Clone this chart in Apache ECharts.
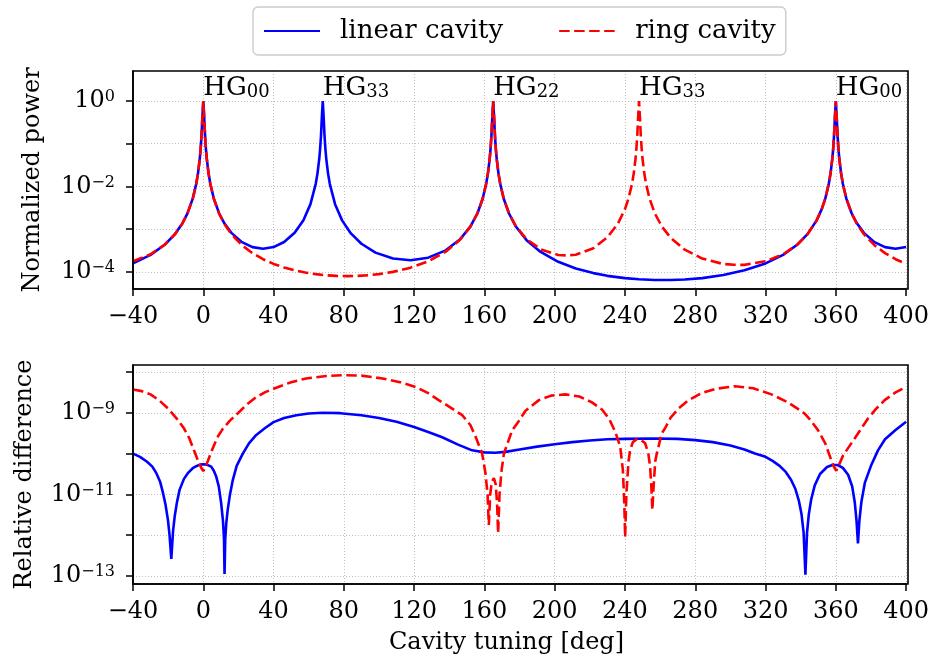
<!DOCTYPE html>
<html>
<head>
<meta charset="utf-8">
<title>Cavity scan</title>
<script src="https://cdn.jsdelivr.net/npm/echarts@6/dist/echarts.min.js"></script>
<style>
  html, body { margin: 0; padding: 0; background: #ffffff; }
  #chart { width: 932px; height: 661px; }
</style>
</head>
<body>
<div id="chart"></div>
<script>
// Normalized circulating power vs. cavity tuning [deg, power]
const linearPower = [
  [-40,1.57e-4],[-30,2.49e-4],[-22,4.29e-4],[-16,7.73e-4],[-12,1.335e-3],[-9,2.33e-3],[-6,5.16e-3],
  [-4,1.149e-2],[-3,2.02e-2],[-2,4.43e-2],[-1.5,0.076],[-1,0.156],[-0.5,0.425],[0,1],[0.5,0.425],
  [1,0.156],[1.5,0.076],[2,0.0443],[3,0.0202],[4,0.0115],[6,5.18e-3],[9,2.35e-3],[12,1.366e-3],
  [16,8.16e-4],[22,4.95e-4],[28,3.78e-4],[34,3.47e-4],[40,3.79e-4],[46,4.98e-4],[52,8.2e-4],
  [57,1.616e-3],[61,3.84e-3],[64,1.15e-2],[65,2.02e-2],[66,4.43e-2],[66.5,0.076],[67,0.156],
  [67.5,0.425],[68,1],[68.5,0.425],[69,0.156],[69.5,0.076],[70,0.0443],[71,0.0202],[72,0.0115],
  [75,3.83e-3],[79,1.6e-3],[84,7.92e-4],[90,4.53e-4],[98,2.81e-4],[108,2.04e-4],[118,1.866e-4],
  [128,2.14e-4],[138,3.18e-4],[146,5.68e-4],[152,1.145e-3],[156,2.32e-3],[159,5.15e-3],
  [161,1.149e-2],[162,2.02e-2],[163,4.43e-2],[163.5,0.076],[164,0.156],[164.5,0.425],[165,1],
  [165.5,0.425],[166,0.156],[166.5,0.076],[167,0.0443],[168,0.0202],[169,0.0115],[171,5.15e-3],
  [174,2.32e-3],[178,1.133e-3],[184,5.51e-4],[192,2.91e-4],[202,1.71e-4],[212,1.19e-4],
  [222,9.31e-5],[230,8.03e-5],[240,7.09e-5],[248,6.66e-5],[257,6.44e-5],[266,6.43e-5],
  [274,6.62e-5],[284,7.1e-5],[296,8.39e-5],[308,1.08e-4],[320,1.568e-4],[330,2.49e-4],
  [338,4.29e-4],[344,7.73e-4],[349,1.58e-3],[352,2.93e-3],[354,5.16e-3],[356,1.149e-2],
  [357,2.02e-2],[358,4.43e-2],[358.5,0.076],[359,0.156],[359.5,0.425],[360,1],[360.5,0.425],
  [361,0.156],[361.5,0.076],[362,0.0443],[363,0.0202],[364,0.0115],[366,5.18e-3],[369,2.35e-3],
  [372,1.366e-3],[376,8.16e-4],[382,4.95e-4],[388,3.78e-4],[394,3.47e-4],[400,3.79e-4]
];

const ringPower = [
  [-40,1.76e-4],[-30,2.57e-4],[-22,4.29e-4],[-16,7.67e-4],[-12,1.325e-3],[-9,2.32e-3],[-6,5.15e-3],
  [-4,1.149e-2],[-3,2.02e-2],[-2,4.43e-2],[-1.5,0.076],[-1,0.156],[-0.5,0.425],[0,1],[0.5,0.425],
  [1,0.156],[1.5,0.076],[2,0.0443],[3,0.0202],[4,0.0115],[6,5.14e-3],[9,2.31e-3],[12,1.32e-3],
  [16,7.6e-4],[22,4.19e-4],[28,2.73e-4],[34,1.97e-4],[40,1.53e-4],[46,1.26e-4],[52,1.08e-4],
  [58,9.6e-5],[64,8.8e-5],[70,8.28e-5],[76,8.0e-5],[82,7.92e-5],[88,8.0e-5],[94,8.3e-5],
  [100,8.8e-5],[108,9.95e-5],[118,1.25e-4],[128,1.76e-4],[138,2.96e-4],[146,5.56e-4],
  [152,1.139e-3],[156,2.32e-3],[159,5.15e-3],[161,1.149e-2],[162,2.02e-2],[163,4.43e-2],
  [163.5,0.076],[164,0.156],[164.5,0.425],[165,1],[165.5,0.425],[166,0.156],[166.5,0.076],
  [167,0.0443],[168,0.0202],[169,0.0115],[171,5.16e-3],[174,2.33e-3],[178,1.155e-3],[184,5.81e-4],
  [192,3.37e-4],[202,2.47e-4],[207,2.42e-4],[212,2.51e-4],[222,3.56e-4],[230,6.41e-4],
  [236,1.347e-3],[240,2.94e-3],[242,5.16e-3],[244,1.148e-2],[245,2.02e-2],[246,4.43e-2],
  [246.5,0.076],[247,0.156],[247.5,0.425],[248,1],[248.5,0.425],[249,0.156],[249.5,0.076],
  [250,0.0443],[251,0.0202],[252,0.0115],[254,5.16e-3],[257,2.33e-3],[261,1.148e-3],[266,6.25e-4],
  [274,3.30e-4],[284,2.04e-4],[296,1.52e-4],[302,1.46e-4],[308,1.45e-4],[320,1.76e-4],
  [330,2.57e-4],[338,4.29e-4],[344,7.67e-4],[349,1.575e-3],[352,2.93e-3],[354,5.15e-3],
  [356,1.149e-2],[357,2.02e-2],[358,4.43e-2],[358.5,0.076],[359,0.156],[359.5,0.425],[360,1],
  [360.5,0.425],[361,0.156],[361.5,0.076],[362,0.0443],[363,0.0202],[364,0.0115],[366,5.14e-3],
  [369,2.31e-3],[372,1.32e-3],[376,7.6e-4],[382,4.19e-4],[388,2.73e-4],[394,1.97e-4],[400,1.53e-4]
];

// Relative difference between the two solvers [deg, |rel. diff|]
const linearDiff = [
  [-40,1.0e-10],[-36,8.32e-11],[-32,6.31e-11],[-29,4.79e-11],[-26.7,3.31e-11],[-24.5,2.0e-11],
  [-23,1.12e-11],[-21.5,5.62e-12],[-20.1,2.34e-12],[-19.2,1.0e-12],[-18.2,2.63e-13],[-17.2,1.26e-12],
  [-16.3,2.82e-12],[-15,6.31e-12],[-13.5,1.29e-11],[-11,2.40e-11],[-8.8,3.31e-11],[-6,4.37e-11],
  [-4,4.90e-11],[-2,5.37e-11],[0,5.50e-11],[2,5.37e-11],[4.5,4.79e-11],[6,3.80e-11],[7.4,2.69e-11],
  [8.8,1.58e-11],[10.2,6.03e-12],[11.2,2.24e-12],[11.8,7.94e-13],[12.1,1.12e-13],[12.5,7.94e-13],
  [13.1,2.0e-12],[13.9,4.17e-12],[15.2,1.0e-11],[16.8,2.24e-11],[19,5.01e-11],[22.5,1.0e-10],
  [26,1.78e-10],[30,2.82e-10],[35,4.17e-10],[40,5.89e-10],[46,7.41e-10],[53,8.71e-10],[60,9.55e-10],
  [68,1.0e-9],[78,9.77e-10],[90,8.71e-10],[100,7.41e-10],[110,6.03e-10],[120,4.47e-10],
  [128,3.39e-10],[136,2.51e-10],[145,1.66e-10],[153,1.20e-10],[160,1.07e-10],[166,1.05e-10],
  [172,1.10e-10],[180,1.26e-10],[190,1.48e-10],[200,1.70e-10],[210,1.91e-10],[220,2.09e-10],
  [230,2.24e-10],[240,2.29e-10],[255,2.34e-10],[270,2.29e-10],[280,2.14e-10],[290,1.91e-10],
  [300,1.58e-10],[308,1.26e-10],[314,1.0e-10],[320,8.32e-11],[324,6.61e-11],[328,5.01e-11],
  [331.5,3.55e-11],[334.5,2.29e-11],[337,1.35e-11],[339,6.92e-12],[340.5,3.24e-12],[341.7,1.12e-12],
  [342.7,1.07e-13],[343.6,1.12e-12],[344.6,3.16e-12],[346,7.59e-12],[348,1.66e-11],[351,3.16e-11],
  [355,4.68e-11],[358,5.25e-11],[361,5.25e-11],[364,4.47e-11],[367,3.02e-11],[369.3,1.58e-11],
  [370.8,6.31e-12],[371.8,2.24e-12],[372.6,6.31e-13],[373.4,2.24e-12],[374.5,6.31e-12],
  [376.5,1.91e-11],[380,5.01e-11],[384,1.20e-10],[388,2.24e-10],[394,3.80e-10],[400,6.03e-10]
];

const ringDiff = [
  [-40,3.72e-9],[-35,3.39e-9],[-30,2.82e-9],[-25,2.0e-9],[-20,1.26e-9],[-15,7.08e-10],
  [-11,4.17e-10],[-8,2.40e-10],[-5,1.12e-10],[-2.6,6.03e-11],[-1,4.37e-11],[0,3.72e-11],
  [1,4.47e-11],[2.6,6.61e-11],[5.4,1.35e-10],[8,2.51e-10],[11,3.98e-10],[15,6.31e-10],[20,1.0e-9],
  [24.4,1.55e-9],[30,2.40e-9],[35,3.16e-9],[40,3.89e-9],[50,5.62e-9],[58.5,6.92e-9],[70,7.94e-9],
  [80,8.32e-9],[90,8.13e-9],[102,6.92e-9],[112,5.62e-9],[121,4.27e-9],[128,3.02e-9],[134,2.04e-9],
  [141,1.32e-9],[147.4,8.71e-10],[152,5.01e-10],[155,2.57e-10],[158.7,1.0e-10],[160.6,3.31e-11],
  [161.8,1.0e-11],[162.5,1.78e-12],[163.3,1.0e-11],[164.2,2.0e-11],[165.4,2.51e-11],[166.4,1.78e-11],
  [167.2,6.31e-12],[167.8,1.12e-12],[168.6,1.0e-11],[169.8,3.98e-11],[171.1,1.0e-10],[175.8,3.72e-10],
  [179.6,6.31e-10],[183.4,1.12e-9],[191,2.04e-9],[198,2.63e-9],[206,2.82e-9],[214,2.51e-9],
  [221,1.82e-9],[226.9,1.20e-9],[231,7.08e-10],[234.5,3.39e-10],[237.3,1.48e-10],[238.8,3.98e-11],
  [239.6,6.31e-12],[240.1,8.91e-13],[240.8,1.0e-11],[242,6.31e-11],[242.9,1.20e-10],[244.5,1.91e-10],
  [246.7,2.24e-10],[249,2.19e-10],[251.5,1.78e-10],[253.3,1.0e-10],[254.3,4.79e-11],[255,1.58e-11],
  [255.6,4.17e-12],[256.3,1.58e-11],[257.2,6.31e-11],[258.1,1.0e-10],[260.9,3.09e-10],[262.8,4.17e-10],
  [266,7.59e-10],[270.4,1.26e-9],[276,2.0e-9],[283.6,3.02e-9],[292,3.89e-9],[302.6,4.47e-9],
  [313,3.98e-9],[323.4,2.82e-9],[333,1.78e-9],[342.3,9.55e-10],[346,6.31e-10],[349.9,3.72e-10],
  [354,1.78e-10],[357.4,6.92e-11],[359,4.68e-11],[360.3,3.80e-11],[361.6,5.01e-11],[364.1,8.91e-11],
  [368.8,1.78e-10],[374,3.80e-10],[378.3,7.24e-10],[383,1.26e-9],[387.8,2.04e-9],[394,3.16e-9],
  [400,4.27e-9]
];

// Resonance annotations
const modeTuning = [0, 68, 165, 248, 360];
const modeIndex = ['00', '33', '22', '33', '00'];
const modePeakPower = 1;

// Axis ticks
const tuningRange = [-40, 400];
const tuningStep = 40;
const powerTicks = [1e-4, 1e-3, 1e-2, 1e-1, 1];
const powerTickLabels = [1e-4, 1e-2, 1];
const powerRange = [3.95e-5, 5.05];
const diffTicks = [1e-13, 1e-12, 1e-11, 1e-10, 1e-9, 1e-8];
const diffTickLabels = [1e-13, 1e-11, 1e-9];
const diffRange = [6.37e-14, 1.48e-8];

const FONT = 'DejaVu Serif';
const BLUE = '#0000ff';
const RED = '#ff0000';
const GRID_LINE = { color: '#b0b0b0', width: 0.8, type: [1, 2] };
const SPINE = { color: '#000', width: 1.6 };

// Panel frames
const panelTop = { left: 133, top: 71, width: 775, height: 218 };
const panelBottom = { left: 133, top: 365, width: 775, height: 219 };

function powerLabel(v) {
  const e = Math.round(Math.log10(v));
  return '{a|10}{p|' + (e < 0 ? '\u2212' : '') + Math.abs(e) + '}';
}
const powerRich = {
  a: { fontFamily: FONT, fontSize: 24, lineHeight: 24, color: '#000' },
  p: { fontFamily: FONT, fontSize: 16, lineHeight: 10, verticalAlign: 'top', color: '#000' }
};

function xAxisFor(gridIndex, name) {
  return {
    type: 'value', gridIndex: gridIndex,
    min: tuningRange[0], max: tuningRange[1], interval: tuningStep,
    axisLine: { show: true, onZero: false, lineStyle: SPINE },
    axisTick: { show: true, inside: false, length: 7, lineStyle: { color: '#000', width: 1.5 } },
    axisLabel: {
      fontFamily: FONT, fontSize: 24, color: '#000', margin: 16,
      formatter: v => String(v).replace('-', '\u2212')
    },
    splitLine: { show: true, lineStyle: GRID_LINE },
    name: name, nameLocation: 'middle', nameGap: 47,
    nameTextStyle: { fontFamily: FONT, fontSize: 24, color: '#000', padding: [0, 26, 0, 0] }
  };
}

function yAxisFor(gridIndex, range, ticks, labels, name, gap) {
  return {
    type: 'log', logBase: 10, gridIndex: gridIndex,
    min: range[0], max: range[1],
    axisLine: { show: true, onZero: false, lineStyle: SPINE },
    axisTick: { show: true, inside: false, length: 7, lineStyle: { color: '#000', width: 1.5 }, customValues: ticks },
    axisLabel: { customValues: labels, formatter: powerLabel, rich: powerRich, margin: 18 },
    splitLine: { show: true, lineStyle: GRID_LINE },
    name: name, nameLocation: 'middle', nameGap: gap, nameRotate: 90,
    nameTextStyle: { fontFamily: FONT, fontSize: 24, color: '#000' }
  };
}

const solid = { color: BLUE, width: 2.6 };
const dashed = { color: RED, width: 2.6, type: [10.5, 4.5] };

const option = {
  animation: false,
  backgroundColor: '#ffffff',
  textStyle: { fontFamily: FONT },
  legend: {
    data: ['linear cavity', 'ring cavity'],
    left: 253, top: 7,
    itemWidth: 56, itemHeight: 14, itemGap: 55,
    padding: [11, 10, 11, 10],
    itemStyle: { opacity: 0 },
    borderColor: '#cccccc', borderWidth: 1.4, borderRadius: 5,
    backgroundColor: '#ffffff',
    textStyle: { fontFamily: FONT, fontSize: 26, color: '#000', padding: [0, 0, 0, 15] }
  },
  grid: [
    Object.assign({ show: false }, panelTop),
    Object.assign({ show: false }, panelBottom)
  ],
  xAxis: [xAxisFor(0, ''), xAxisFor(1, 'Cavity tuning [deg]')],
  yAxis: [
    yAxisFor(0, powerRange, powerTicks, powerTickLabels, 'Normalized power', 88),
    yAxisFor(1, diffRange, diffTicks, diffTickLabels, 'Relative difference', 96)
  ],
  graphic: [panelTop, panelBottom].map(p => ({
    type: 'rect', z: 100, silent: true,
    shape: { x: p.left, y: p.top, width: p.width, height: p.height },
    style: { fill: 'none', stroke: '#000', lineWidth: 1.6 }
  })),
  series: [
    { name: 'linear cavity', type: 'line', xAxisIndex: 0, yAxisIndex: 0, data: linearPower,
      symbol: 'none', lineStyle: solid, itemStyle: { color: BLUE }, z: 2 },
    { name: 'ring cavity', type: 'line', xAxisIndex: 0, yAxisIndex: 0, data: ringPower,
      symbol: 'none', lineStyle: dashed, itemStyle: { color: RED }, z: 3 },
    { name: 'linear cavity', type: 'line', xAxisIndex: 1, yAxisIndex: 1, data: linearDiff,
      symbol: 'none', lineStyle: solid, itemStyle: { color: BLUE }, z: 2 },
    { name: 'ring cavity', type: 'line', xAxisIndex: 1, yAxisIndex: 1, data: ringDiff,
      symbol: 'none', lineStyle: dashed, itemStyle: { color: RED }, z: 3 },
    {
      type: 'scatter', xAxisIndex: 0, yAxisIndex: 0, silent: true, z: 5,
      symbolSize: 0, itemStyle: { color: '#000', opacity: 1 },
      data: modeTuning.map(t => [t, modePeakPower]),
      label: {
        show: true, position: [0, 0], align: 'left', verticalAlign: 'bottom', color: '#000',
        formatter: p => '{b|HG}{s|' + modeIndex[p.dataIndex] + '}',
        rich: {
          b: { fontFamily: FONT, fontSize: 26, lineHeight: 26, color: '#000' },
          s: { fontFamily: FONT, fontSize: 18, lineHeight: 12, verticalAlign: 'bottom', color: '#000' }
        }
      }
    }
  ]
};

const chart = echarts.init(document.getElementById('chart'));
chart.setOption(option);
</script>
</body>
</html>
